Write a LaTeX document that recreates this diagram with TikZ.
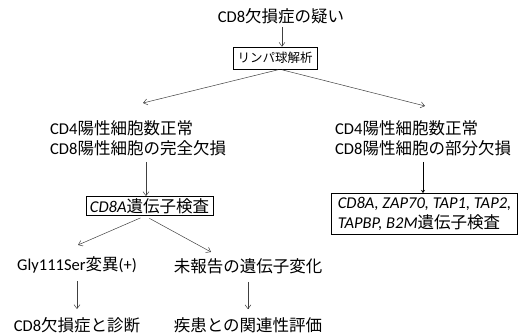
\documentclass[tikz,border=0pt]{standalone}
\usepackage{fontspec}
\setmainfont{Carlito}
\newfontfamily\jpf{Noto Sans CJK JP}
\newcommand\J[1]{{\jpf #1}}
\usetikzlibrary{arrows.meta}
\begin{document}
\begin{tikzpicture}[x=1pt,y=-1pt,
  txt/.style={inner sep=0pt, align=left, font=\fontsize{16.5}{20}\selectfont},
  boxed/.style={draw, line width=0.6pt, inner xsep=5pt, inner ysep=3pt},
  arr/.style={draw=black!75, line width=0.5pt, -{Straight Barb[length=4pt,width=6pt]}},
  arrb/.style={draw=black, line width=0.9pt, -{Stealth[length=3pt,width=4pt]}},
]
\useasboundingbox (0,0) rectangle (531,336);
% nodes
\node[txt] (t0) at (281,16) {CD8\J{欠損症の疑い}};
\node[boxed, minimum width=84pt, minimum height=22pt, inner sep=0pt, font=\fontsize{12.5}{15}\selectfont] (b1) at (275,58) {\J{リンパ球解析}};
\node[txt, anchor=west] (L) at (50,138) {CD4\J{陽性細胞数正常}\\CD8\J{陽性細胞の完全欠損}};
\node[txt, anchor=west] (R) at (335,138) {CD4\J{陽性細胞数正常}\\CD8\J{陽性細胞の部分欠損}};
\node[boxed, txt, inner xsep=4pt, inner ysep=2pt] (b2) at (149.5,206) {\textit{CD8A}\J{遺伝子検査}};
\node[boxed, txt, inner xsep=6pt, inner ysep=4pt] (b3) at (424.5,214) {\textit{CD8A, ZAP70, TAP1, TAP2,}\\\textit{TAPBP, B2M}\J{遺伝子検査}};
\node[txt] (g1) at (77,265) {Gly111Ser\J{変異}(+)};
\node[txt] (g2) at (248,266) {\J{未報告の遺伝子変化}};
\node[txt] (d1) at (77,325) {CD8\J{欠損症と診断}};
\node[txt] (d2) at (248,325) {\J{疾患との関連性評価}};
% helper coordinates
\coordinate (ax) at (282,0);
\coordinate (c1) at (280,0);
\coordinate (La) at (143,103);
\coordinate (Ra) at (425,106);
\coordinate (xl) at (146,0);
\coordinate (xr) at (423,0);
\coordinate (c2) at (145,0);
\coordinate (Ga) at (78,245);
\coordinate (Ua) at (211,252);
% connectors
\draw[arr, shorten <=3pt] (t0.south -| ax) -- (b1.north -| ax);
\draw[arr, shorten <=2pt] (b1.south -| c1) -- (La);
\draw[arr, shorten <=2pt] (b1.south -| c1) -- (Ra);
\draw[arr, shorten <=6pt] (L.south -| xl) -- (b2.north -| xl);
\draw[arrb, shorten <=6pt] (R.south -| xr) -- (b3.north -| xr);
\draw[arr, shorten <=5pt] (b2.south -| c2) -- (Ga);
\draw[arr, shorten <=5pt] (b2.south -| c2) -- (Ua);
\draw[arr, shorten <=8pt, shorten >=8pt] (g1) -- (d1);
\draw[arr, shorten <=8pt, shorten >=8pt] (g2) -- (d2);
\end{tikzpicture}
\end{document}
